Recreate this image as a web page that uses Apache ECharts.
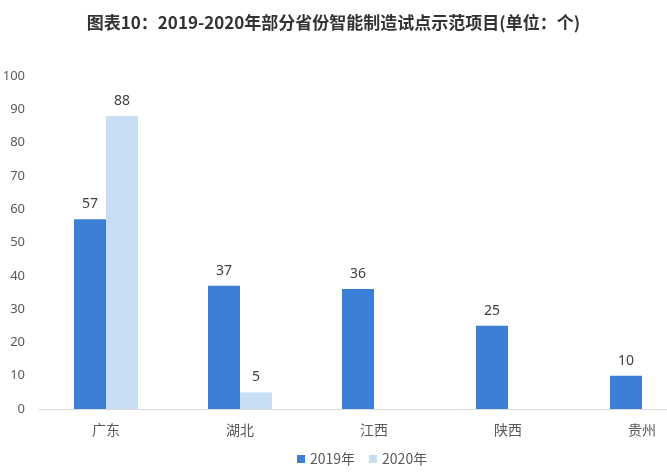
<!DOCTYPE html>
<html>
<head>
<meta charset="utf-8">
<script src="https://cdn.jsdelivr.net/npm/echarts@6/dist/echarts.min.js"></script>
<style>
    html, body { margin: 0; padding: 0; background: #ffffff; }
    #chart { width: 667px; height: 474px; }
</style>
</head>
<body>
<div id="chart"></div>
<script>
    // 数据
    var provinces = ['广东', '湖北', '江西', '陕西', '贵州'];
    var data2019 = [57, 37, 36, 25, 10];
    var data2020 = [88, 5, null, null, null];
    var seriesNames = ['2019年', '2020年'];

    var myChart = echarts.init(document.getElementById('chart'));

    var labelStyle = {
        show: true,
        position: 'top',
        distance: 8,
        color: '#404040',
        fontSize: 14,
        fontFamily: 'Noto Sans'
    };

    var option = {
        backgroundColor: '#ffffff',
        title: {
            text: '图表10：2019-2020年部分省份智能制造试点示范项目(单位：个)',
            left: 'center',
            top: 9,
            textStyle: {
                fontFamily: 'Noto Sans CJK SC',
                fontSize: 17,
                fontWeight: 'bold',
                color: '#333333'
            }
        },
        legend: {
            data: seriesNames,
            bottom: 3,
            left: 292,
            itemWidth: 8,
            itemHeight: 8,
            itemGap: 14,
            icon: 'rect',
            textStyle: {
                fontFamily: 'Noto Sans CJK SC',
                fontSize: 14,
                color: '#595959'
            }
        },
        grid: {
            left: 39,
            right: -42,
            top: 76,
            bottom: 65,
            outerBoundsMode: 'none',
            containLabel: false
        },
        xAxis: {
            type: 'category',
            data: provinces,
            axisLine: { lineStyle: { color: '#d9d9d9' } },
            axisTick: { show: false },
            axisLabel: {
                margin: 14,
                fontFamily: 'Noto Sans CJK SC',
                fontSize: 14,
                color: '#595959'
            }
        },
        yAxis: {
            type: 'value',
            min: 0,
            max: 100,
            interval: 10,
            splitLine: { show: false },
            axisLine: { show: false },
            axisTick: { show: false },
            axisLabel: {
                margin: 14,
                fontFamily: 'Noto Sans',
                fontSize: 13,
                color: '#595959'
            }
        },
        series: [
            {
                name: seriesNames[0],
                type: 'bar',
                barWidth: 32,
                barGap: 0,
                itemStyle: { color: '#3b7fd6' },
                label: labelStyle,
                data: data2019
            },
            {
                name: seriesNames[1],
                type: 'bar',
                barWidth: 32,
                barGap: 0,
                itemStyle: { color: '#c7def5' },
                label: labelStyle,
                data: data2020
            }
        ]
    };

    myChart.setOption(option);
</script>
</body>
</html>
